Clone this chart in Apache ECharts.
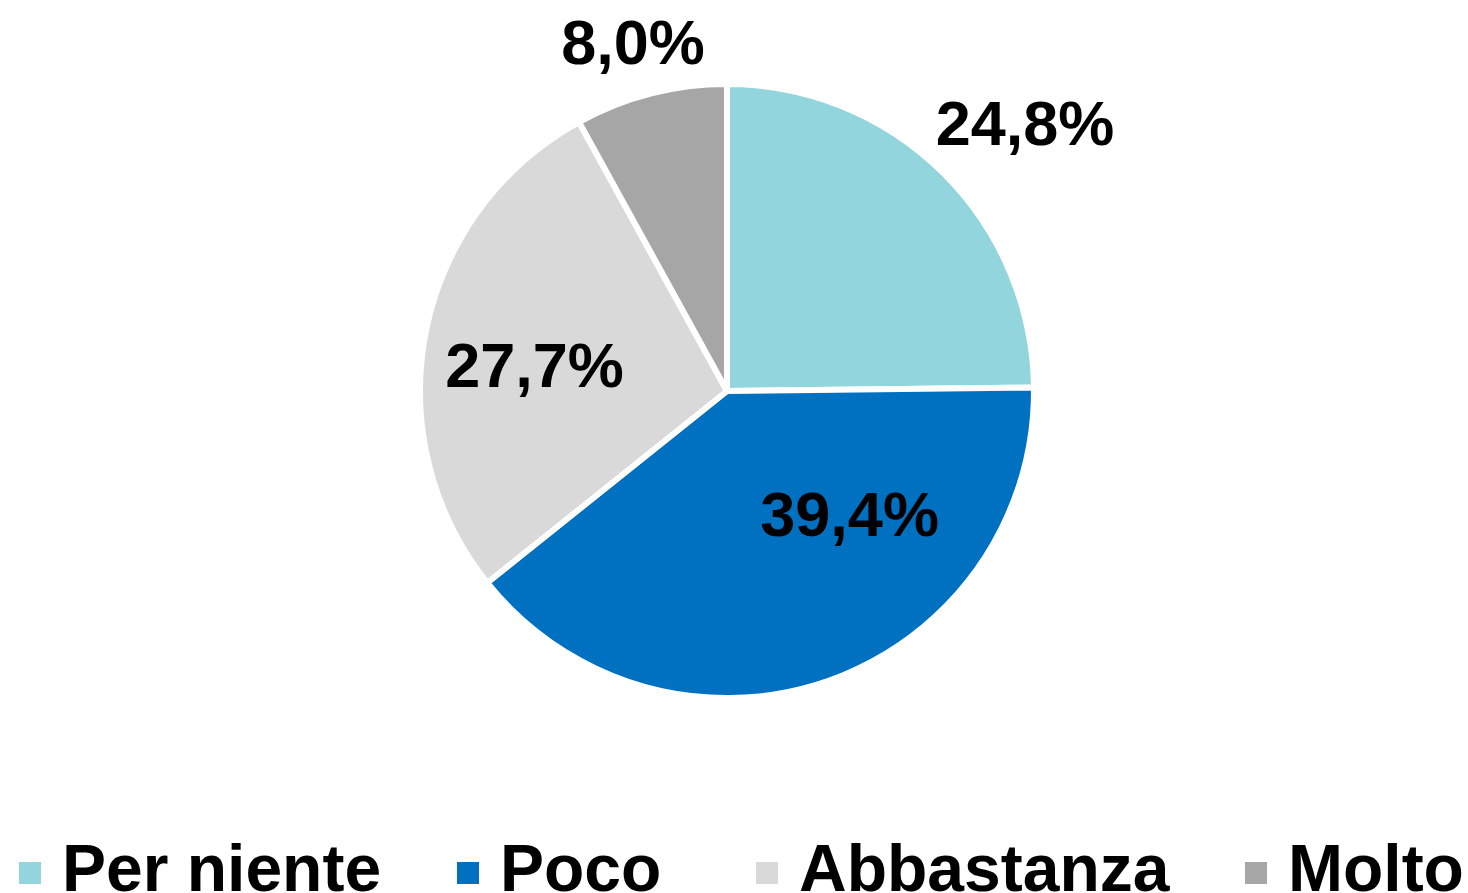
<!DOCTYPE html>
<html>
<head>
<meta charset="utf-8">
<script src="https://cdn.jsdelivr.net/npm/echarts@6/dist/echarts.min.js"></script>
<style>
html,body{margin:0;padding:0;background:#fff;}
#chart{width:1468px;height:893px;}
</style>
</head>
<body>
<div id="chart"></div>
<script>
var categories = ['Per niente', 'Poco', 'Abbastanza', 'Molto'];
var values = [24.8, 39.4, 27.7, 8.0];

var colors = ['#92D5DC', '#0070C0', '#D9D9D9', '#A6A6A6'];
var labelOffsets = [[188, -152], [70, -20], [-39, 9], [-55, -193]];
var legendLefts = [12, 450, 749, 1238];

var chart = echarts.init(document.getElementById('chart'));
var data = categories.map(function (c, i) {
  return {
    name: c,
    value: values[i],
    itemStyle: { color: colors[i] },
    label: { offset: labelOffsets[i] }
  };
});
var legends = categories.map(function (c, i) {
  return {
    left: legendLefts[i],
    top: 835,
    icon: 'rect',
    itemWidth: 24,
    itemHeight: 24,
    data: [c],
    selectedMode: false,
    textStyle: {
      fontFamily: 'Liberation Sans',
      fontWeight: 'bold',
      fontSize: 66,
      color: '#000',
      padding: [0, 0, 0, 15]
    }
  };
});
chart.setOption({
  animation: false,
  backgroundColor: '#fff',
  legend: legends,
  series: [{
    type: 'pie',
    center: [727, 391],
    radius: [0, 307],
    startAngle: 90,
    clockwise: true,
    itemStyle: { borderColor: '#fff', borderWidth: 6 },
    label: {
      show: true,
      position: 'inside',
      fontFamily: 'Liberation Sans',
      fontWeight: 'bold',
      fontSize: 63,
      color: '#000',
      formatter: function (p) { return p.value.toFixed(1).replace('.', ',') + '%'; }
    },
    labelLine: { show: false },
    emphasis: { disabled: true },
    data: data
  }]
});
</script>
</body>
</html>
